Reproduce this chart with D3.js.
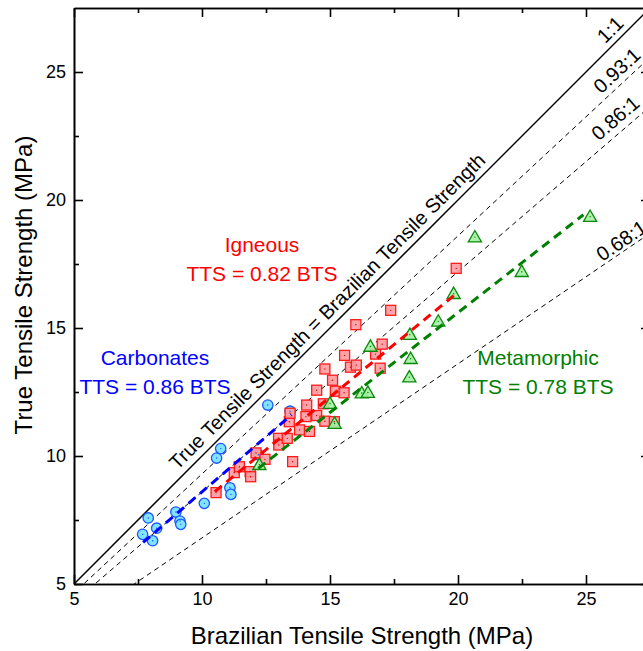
<!DOCTYPE html>
<html>
<head>
<meta charset="utf-8">
<script src="https://cdn.jsdelivr.net/npm/d3@7"></script>
<style>
  body { margin: 0; background: #fff; }
  svg { display: block; font-family: Arial, "Liberation Sans", sans-serif; }
</style>
</head>
<body>
<div id="chart"></div>
<script>
// values (MPa)
const carbonatesBTS = [7.68, 8.07, 7.90, 8.23, 8.98, 9.14, 9.17, 10.09, 10.57, 10.73, 11.09, 11.13, 12.57, 13.44, 12.20];
const carbonatesTTS = [6.94, 6.69, 7.58, 7.18, 7.81, 7.46, 7.33, 8.15, 9.92, 10.29, 8.76, 8.50, 11.99, 11.75, 10.05];

const igneousBTS = [10.55, 11.26, 11.46, 11.88, 11.90, 12.11, 12.46, 12.99, 13.00, 13.33, 13.54, 13.41, 13.44, 13.81,
  14.20, 14.06, 14.09, 14.48, 14.80, 15.17, 14.48, 14.74, 15.10, 15.21, 15.55, 14.80, 15.57, 15.80, 16.03, 16.96,
  16.78, 17.04, 16.01, 17.37, 19.93];
const igneousTTS = [8.57, 9.35, 9.58, 9.39, 9.19, 10.12, 9.87, 10.69, 10.43, 10.69, 9.78, 11.34, 11.67, 11.02,
  10.96, 11.54, 11.99, 11.58, 11.36, 11.34, 12.57, 12.04, 12.96, 12.53, 12.47, 13.40, 13.93, 13.47, 13.55, 13.43,
  13.98, 14.37, 15.13, 15.69, 17.33];

const metamorphicBTS = [12.24, 15.00, 15.18, 16.24, 16.48, 16.58, 18.12, 18.15, 18.10, 19.23, 19.83, 20.66, 22.49, 25.16];
const metamorphicTTS = [9.66, 12.05, 11.27, 12.46, 12.48, 14.28, 14.74, 13.80, 13.08, 15.26, 16.34, 18.55, 17.20, 19.35];

// fitted lines TTS = k * BTS over the range of each group
const fitNames = ['Carbonates', 'Igneous', 'Metamorphic'];
const fitSlopes = [0.86, 0.82, 0.78];
const fitFrom = [7.7, 10.5, 12.2];
const fitTo = [13.5, 19.9, 24.9];

// reference ratio lines through the origin
const ratioValues = [1, 0.93, 0.86, 0.68];
const ratioLabels = ['1:1', '0.93:1', '0.86:1', '0.68:1'];

const tickValues = [5, 10, 15, 20, 25];
const minorTicks = [7.5, 12.5, 17.5, 22.5];

const colors = {Carbonates: '#0000ff', Igneous: '#ff0000', Metamorphic: '#008000'};

const W = 643, H = 651;
const margin = {left: 74, top: 8};
const plotW = 576, plotH = 576;

const svg = d3.select('#chart').append('svg')
  .attr('width', W).attr('height', H);

const x = d3.scaleLinear().domain([5, 27.5]).range([margin.left, margin.left + plotW]);
const y = d3.scaleLinear().domain([5, 27.5]).range([margin.top + plotH, margin.top]);

svg.append('defs').append('clipPath').attr('id', 'plot-clip')
  .append('rect')
  .attr('x', x(5)).attr('y', y(27.5))
  .attr('width', plotW).attr('height', plotH);

const plot = svg.append('g').attr('clip-path', 'url(#plot-clip)');

// ratio lines
ratioValues.forEach((r, i) => {
  plot.append('line')
    .attr('x1', x(0)).attr('y1', y(0))
    .attr('x2', x(30)).attr('y2', y(30 * r))
    .attr('stroke', '#000')
    .attr('stroke-width', i == 0 ? 1.5 : 1)
    .attr('stroke-dasharray', i == 0 ? null : '5,4');
});

// ratio labels, placed just above each line near the right edge
const labelAt = [26.3, 26.55, 26.5, 26.6];
const labelOff = [13, 13, 14, 10];
ratioValues.forEach((r, i) => {
  let ang = Math.atan(r) * 180 / Math.PI;
  let px = x(labelAt[i]), py = y(labelAt[i] * r);
  let rad = Math.atan(r);
  px -= labelOff[i] * Math.sin(rad);
  py -= labelOff[i] * Math.cos(rad);
  svg.append('text')
    .attr('transform', `translate(${px},${py}) rotate(${-ang})`)
    .attr('text-anchor', 'middle')
    .attr('dy', '0.35em')
    .style('font-size', '20px')
    .text(ratioLabels[i]);
});

// equality caption along the 1:1 line
{
  let px = x(15.27) - 14 * Math.SQRT1_2, py = y(15.27) - 14 * Math.SQRT1_2;
  svg.append('text')
    .attr('transform', `translate(${px},${py}) rotate(-45)`)
    .attr('text-anchor', 'middle')
    .attr('dy', '0.35em')
    .style('font-size', '20px')
    .text('True Tensile Strength = Brazilian Tensile Strength');
}

// markers
const circles = carbonatesBTS.map((d, i) => [d, carbonatesTTS[i]]);
const squares = igneousBTS.map((d, i) => [d, igneousTTS[i]]);
const triangles = metamorphicBTS.map((d, i) => [d, metamorphicTTS[i]]);

plot.selectAll('.carb').data(circles).enter().append('circle')
  .attr('cx', d => x(d[0])).attr('cy', d => y(d[1])).attr('r', 5.2)
  .attr('fill', '#80e4ff').attr('stroke', '#1a55ff').attr('stroke-width', 1.3);

plot.selectAll('.ign').data(squares).enter().append('rect')
  .attr('x', d => x(d[0]) - 5).attr('y', d => y(d[1]) - 5)
  .attr('width', 10).attr('height', 10)
  .attr('fill', '#ff9a9e').attr('fill-opacity', 0.9)
  .attr('stroke', '#ff1a1a').attr('stroke-width', 1.3);

const tri = d3.symbol().type(d3.symbolTriangle).size(75);
plot.selectAll('.met').data(triangles).enter().append('path')
  .attr('d', tri)
  .attr('transform', d => `translate(${x(d[0])},${y(d[1]) + 1})`)
  .attr('fill', '#a3f0a3').attr('fill-opacity', 0.9)
  .attr('stroke', '#0a8a0a').attr('stroke-width', 1.3);

// centre dots
[[circles, '#1a55ff'], [squares, '#cc0000'], [triangles, '#0a7a0a']].forEach(([pts, c]) => {
  plot.append('g').selectAll('circle').data(pts).enter().append('circle')
    .attr('cx', d => x(d[0])).attr('cy', d => y(d[1])).attr('r', 0.7)
    .attr('fill', c);
});

// fitted dashed lines
fitNames.forEach((name, i) => {
  plot.append('line')
    .attr('x1', x(fitFrom[i])).attr('y1', y(fitFrom[i] * fitSlopes[i]))
    .attr('x2', x(fitTo[i])).attr('y2', y(fitTo[i] * fitSlopes[i]))
    .attr('stroke', colors[name])
    .attr('stroke-width', 3)
    .attr('stroke-dasharray', '9,6');
});

// axes with inward ticks on all four sides
function ticks(axis) {
  return axis.tickSizeOuter(0).tickPadding(8);
}
const gx = svg.append('g').attr('transform', `translate(0,${y(5)})`)
  .call(ticks(d3.axisBottom(x).tickValues(tickValues).tickSizeInner(-9).tickFormat(d3.format('d'))));
const gy = svg.append('g').attr('transform', `translate(${x(5)},0)`)
  .call(ticks(d3.axisLeft(y).tickValues(tickValues).tickSizeInner(-9).tickFormat(d3.format('d'))));
svg.append('g').attr('transform', `translate(0,${y(5)})`)
  .call(d3.axisBottom(x).tickValues(minorTicks).tickSize(-5).tickSizeOuter(0).tickFormat(''));
svg.append('g').attr('transform', `translate(${x(5)},0)`)
  .call(d3.axisLeft(y).tickValues(minorTicks).tickSize(-5).tickSizeOuter(0).tickFormat(''));
svg.append('g').attr('transform', `translate(0,${y(27.5)})`)
  .call(d3.axisTop(x).tickValues(tickValues).tickSize(-9).tickSizeOuter(0).tickFormat(''));
svg.append('g').attr('transform', `translate(0,${y(27.5)})`)
  .call(d3.axisTop(x).tickValues(minorTicks).tickSize(-5).tickSizeOuter(0).tickFormat(''));
svg.append('g').attr('transform', `translate(${x(27.5)},0)`)
  .call(d3.axisRight(y).tickValues(tickValues).tickSize(-9).tickSizeOuter(0).tickFormat(''));
svg.append('g').attr('transform', `translate(${x(27.5)},0)`)
  .call(d3.axisRight(y).tickValues(minorTicks).tickSize(-5).tickSizeOuter(0).tickFormat(''));

svg.selectAll('.domain, .tick line').attr('stroke', '#000').attr('stroke-width', 1.6);
gx.selectAll('text').style('font-size', '18px').attr('fill', '#000');
gy.selectAll('text').style('font-size', '18px').attr('fill', '#000');

// axis titles
svg.append('text')
  .attr('x', 362).attr('y', 644)
  .attr('text-anchor', 'middle')
  .style('font-size', '24px')
  .text('Brazilian Tensile Strength (MPa)');
svg.append('text')
  .attr('transform', `translate(32,${285}) rotate(-90)`)
  .attr('text-anchor', 'middle')
  .style('font-size', '24px')
  .text('True Tensile Strength (MPa)');

// group annotations
const notes = [
  ['Igneous', 262, 252], ['Carbonates', 155, 365], ['Metamorphic', 538, 365]
];
notes.forEach(([name, cx, cy], i) => {
  let k = fitSlopes[fitNames.indexOf(name)];
  svg.append('text').attr('x', cx).attr('y', cy)
    .attr('text-anchor', 'middle').attr('fill', colors[name])
    .style('font-size', '21px').text(name);
  svg.append('text').attr('x', cx).attr('y', cy + 29)
    .attr('text-anchor', 'middle').attr('fill', colors[name])
    .style('font-size', '21px').text(`TTS = ${k} BTS`);
});
</script>
</body>
</html>
